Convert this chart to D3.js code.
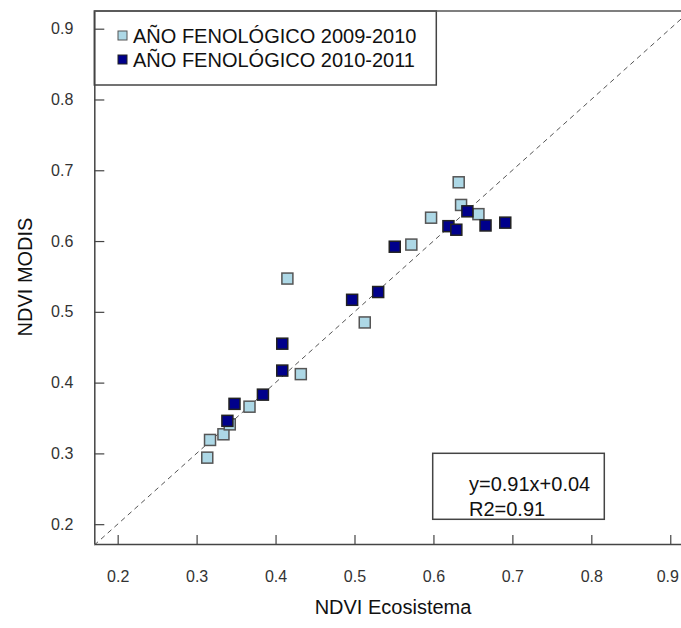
<!DOCTYPE html>
<html>
<head>
<meta charset="utf-8">
<script src="https://cdn.jsdelivr.net/npm/d3@7"></script>
<style>
  body { margin: 0; background: #fff; }
  svg text { font-family: "Liberation Sans", Arial, sans-serif; }
</style>
</head>
<body>
<div id="chart"></div>
<script>
// data: [NDVI Ecosistema, NDVI MODIS]
var serie2009 = [
  [0.3135, 0.294], [0.317, 0.319], [0.334, 0.327], [0.342, 0.341],
  [0.367, 0.366], [0.432, 0.412], [0.415, 0.547], [0.513, 0.485],
  [0.572, 0.595], [0.597, 0.633], [0.632, 0.683], [0.635, 0.651],
  [0.657, 0.638]
];
var serie2010 = [
  [0.339, 0.346], [0.348, 0.370], [0.384, 0.383], [0.4085, 0.417],
  [0.4085, 0.455], [0.497, 0.517], [0.530, 0.528], [0.551, 0.592],
  [0.619, 0.621], [0.629, 0.616], [0.643, 0.642], [0.666, 0.622],
  [0.691, 0.626]
];
var ticks = [0.2, 0.3, 0.4, 0.5, 0.6, 0.7, 0.8, 0.9];
var legendLabels = ["AÑO FENOLÓGICO 2009-2010", "AÑO FENOLÓGICO 2010-2011"];
var eqLines = ["y=0.91x+0.04", "R2=0.91"];

var width = 681, height = 628;
var colLight = "#add8e6", colDark = "#00008b";

var svg = d3.select("#chart").append("svg")
  .attr("width", width)
  .attr("height", height);

var x = d3.scaleLinear().domain([0.1704, 0.9136]).range([94.3, 681]);
var y = d3.scaleLinear().domain([0.172, 0.925]).range([544, 11]);

// 1:1 dashed line
svg.append("line")
  .attr("x1", x(0.1704)).attr("y1", y(0.1704))
  .attr("x2", x(0.9136)).attr("y2", y(0.9136))
  .attr("stroke", "#555")
  .attr("stroke-width", 1)
  .attr("stroke-dasharray", "5,4");

// legend box
var legend = svg.append("g");
legend.append("rect")
  .attr("x", 94.3).attr("y", 11)
  .attr("width", 342).attr("height", 74)
  .attr("fill", "none")
  .attr("stroke", "#444")
  .attr("stroke-width", 1.5);

legendLabels.forEach(function (t, i) {
  legend.append("rect")
    .attr("x", 118).attr("y", 31 + i * 24)
    .attr("width", 9).attr("height", 9)
    .attr("fill", i == 0 ? colLight : colDark)
    .attr("stroke", i == 0 ? "#555" : "#222")
    .attr("stroke-width", 1);
  legend.append("text")
    .attr("x", 133).attr("y", 43 + i * 24)
    .attr("font-size", 20)
    .attr("fill", "#111")
    .text(t);
});

// equation box
svg.append("rect")
  .attr("x", 432.7).attr("y", 453.3)
  .attr("width", 171.6).attr("height", 66)
  .attr("fill", "none")
  .attr("stroke", "#444")
  .attr("stroke-width", 1.5);

eqLines.forEach(function (t, i) {
  svg.append("text")
    .attr("x", 469).attr("y", 491 + i * 25)
    .attr("font-size", 20)
    .attr("fill", "#111")
    .text(t);
});

// axes
var xAxis = d3.axisBottom(x)
  .tickValues(ticks)
  .tickSize(-9)
  .tickSizeOuter(0)
  .tickPadding(27)
  .tickFormat(d3.format(".1f"));

var yAxis = d3.axisLeft(y)
  .tickValues(ticks)
  .tickSize(-10)
  .tickSizeOuter(0)
  .tickPadding(21)
  .tickFormat(d3.format(".1f"));

var gx = svg.append("g")
  .attr("transform", "translate(0,544)")
  .call(xAxis);
var gy = svg.append("g")
  .attr("transform", "translate(94.3,0)")
  .call(yAxis);

[gx, gy].forEach(function (g) {
  g.select(".domain").attr("stroke", "#444").attr("stroke-width", 1.5);
  g.selectAll(".tick line").attr("stroke", "#444").attr("stroke-width", 1.2);
  g.selectAll(".tick text")
    .attr("font-size", 16)
    .attr("fill", "#333")
    .attr("font-family", "Liberation Sans, Arial, sans-serif");
});

// last x label sits right at the edge of the page
gx.selectAll(".tick text").filter(d => d == 0.9).attr("dx", -3);

// top frame line
svg.append("line")
  .attr("x1", 94.3).attr("y1", 11)
  .attr("x2", 681).attr("y2", 11)
  .attr("stroke", "#555")
  .attr("stroke-width", 1.5);

// points
var size = 11;
svg.append("g").selectAll("rect")
  .data(serie2009)
  .enter()
  .append("rect")
  .attr("x", d => x(d[0]) - size / 2)
  .attr("y", d => y(d[1]) - size / 2)
  .attr("width", size).attr("height", size)
  .attr("fill", colLight)
  .attr("stroke", "#555")
  .attr("stroke-width", 1.5);

svg.append("g").selectAll("rect")
  .data(serie2010)
  .enter()
  .append("rect")
  .attr("x", d => x(d[0]) - size / 2)
  .attr("y", d => y(d[1]) - size / 2)
  .attr("width", size).attr("height", size)
  .attr("fill", colDark)
  .attr("stroke", "#222")
  .attr("stroke-width", 1.5);

// axis titles
svg.append("text")
  .attr("x", 393).attr("y", 614)
  .attr("text-anchor", "middle")
  .attr("font-size", 20)
  .attr("fill", "#111")
  .text("NDVI Ecosistema");

svg.append("text")
  .attr("transform", "translate(32,277) rotate(-90)")
  .attr("text-anchor", "middle")
  .attr("font-size", 20)
  .attr("fill", "#111")
  .text("NDVI MODIS");
</script>
</body>
</html>
